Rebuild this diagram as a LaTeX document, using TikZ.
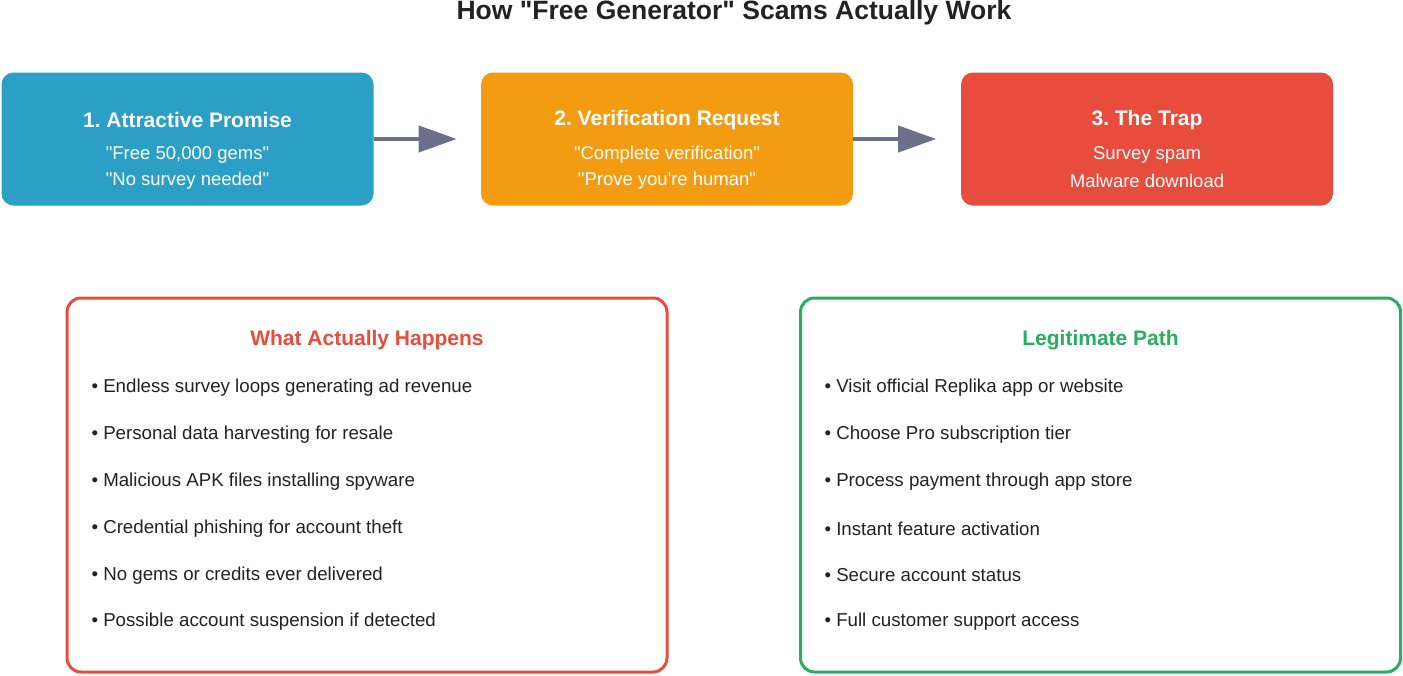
\documentclass[tikz,border=0pt]{standalone}
\usepackage{fontspec}
\setmainfont{Liberation Sans}[Ligatures=TeXOff]
\frenchspacing
\usetikzlibrary{positioning,arrows.meta}
\definecolor{stepblue}{HTML}{2B9FC6}
\definecolor{steporange}{HTML}{F39C12}
\definecolor{stepred}{HTML}{E74C3C}
\definecolor{pathgreen}{HTML}{27AE60}
\definecolor{arrowgray}{HTML}{6B6F8A}
\definecolor{textdark}{HTML}{222222}
\tikzset{
  stage/.style={rounded corners=12pt, minimum width=372pt, minimum height=133pt, draw=none},
  stagetitle/.style={text=white, font=\fontsize{21}{25}\selectfont\bfseries},
  stagetext/.style={text=white, font=\fontsize{18.5}{22}\selectfont},
  flow/.style={-{Triangle[length=38pt,width=26pt]}, line width=4pt, draw=arrowgray},
  panel/.style={rounded corners=14pt, line width=3pt, minimum width=600pt, minimum height=374pt, fill=white},
  paneltitle/.style={font=\fontsize{21}{25}\selectfont\bfseries},
  item/.style={anchor=west, text=textdark, font=\fontsize{18.7}{22}\selectfont},
}
\begin{document}
\begin{tikzpicture}[x=1pt,y=-1pt]
    \useasboundingbox (0,0) rectangle (1403,675);

    % title
    \node [text=textdark, font=\fontsize{26.5}{30}\selectfont\bfseries] (title) at (734,13) {How "Free Generator" Scams Actually Work};

    % stages
    \node [stage, fill=stepblue] (attract) at (187.5,139) {};
    \node [stagetitle] at (187.5,120) {1. Attractive Promise};
    \node [stagetext] at (187.5,155) {"Free 50,000 gems"};
    \node [stagetext] at (187.5,181) {"No survey needed"};

    \node [stage, fill=steporange] (verify) at (667,139) {};
    \node [stagetitle] at (667,120) {2. Verification Request};
    \node [stagetext] at (667,155) {"Complete verification"};
    \node [stagetext] at (667,181) {"Prove you're human"};

    \node [stage, fill=stepred] (trap) at (1147,139) {};
    \node [stagetitle] at (1147,120) {3. The Trap};
    \node [stagetext] at (1147,155) {Survey spam};
    \node [stagetext] at (1147,181) {Malware download};

    \draw [flow] (attract.east) -- ++(83,0) coordinate (a1);
    \draw [flow] (verify.east) -- ++(83,0) coordinate (a2);

    % panels
    \node [panel, draw=stepred] (happens) at (367,485) {};
    \node [paneltitle, text=stepred] at (367,340) {What Actually Happens};
    \foreach \t [count=\i from 0] in {Endless survey loops generating ad revenue,
        Personal data harvesting for resale,
        Malicious APK files installing spyware,
        Credential phishing for account theft,
        No gems or credits ever delivered,
        Possible account suspension if detected}
        \node [item] at (88,388+46.8*\i) {• \t};

    \node [panel, draw=pathgreen] (legit) at (1100.5,485) {};
    \node [paneltitle, text=pathgreen] at (1100.5,340) {Legitimate Path};
    \foreach \t [count=\i from 0] in {Visit official Replika app or website,
        Choose Pro subscription tier,
        Process payment through app store,
        Instant feature activation,
        Secure account status,
        Full customer support access}
        \node [item] at (821,388+46.8*\i) {• \t};

\end{tikzpicture}
\end{document}
